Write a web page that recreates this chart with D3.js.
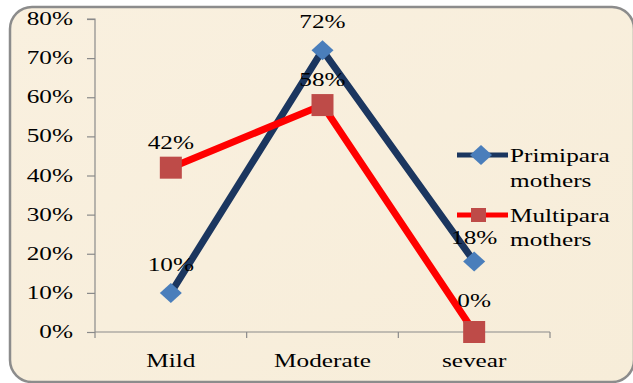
<!DOCTYPE html>
<html><head><meta charset="utf-8">
<script src="https://cdn.jsdelivr.net/npm/d3@7"></script>
<style>body{margin:0;background:#fff;}svg{display:block;}</style>
</head><body>
<svg id="c" width="633" height="383"></svg>
<script>
const categories = ["Mild", "Moderate", "sevear"];
const primipara = [10, 72, 18];
const multipara = [42, 58, 0];
const yTicks = [0, 10, 20, 30, 40, 50, 60, 70, 80];
const seriesNames = [["Primipara", "mothers"], ["Multipara", "mothers"]];

const svg = d3.select("#c");
const SX = 1.33;
const font = "'Liberation Serif','Times New Roman',serif";

// background panel
const defs = svg.append("defs");
const grad = defs.append("linearGradient").attr("id","bg").attr("x1",0).attr("y1",0).attr("x2",1).attr("y2",1);
grad.append("stop").attr("offset","0%").attr("stop-color","#f9f0df");
grad.append("stop").attr("offset","100%").attr("stop-color","#f7edd9");
svg.append("rect").attr("x",10).attr("y",7).attr("width",624).attr("height",375)
  .attr("rx",22).attr("fill","url(#bg)").attr("stroke","#8c8c8c").attr("stroke-width",2.5);

const x0 = 95, x1 = 550, yTop = 19, yBot = 332;
const x = d3.scaleBand().domain(categories).range([x0, x1]);
const y = d3.scaleLinear().domain([0, 80]).range([yBot, yTop]);

function txt(g, s, px, py, anchor, size) {
  return g.append("text").text(s)
    .attr("transform", `translate(${px},${py}) scale(${SX},1)`)
    .attr("text-anchor", anchor).attr("font-family", font)
    .attr("font-size", size || 19).attr("fill", "#000");
}

// Y axis
const yAxis = svg.append("g").attr("transform", `translate(${x0},0)`)
  .call(d3.axisLeft(y).tickValues(yTicks).tickSize(8).tickFormat(""));
yAxis.selectAll("path,line").attr("stroke", "#8a8a8a").attr("stroke-width", 1.2);
yAxis.select(".domain").attr("d", `M-8,${yTop}H0V${yBot}`);
yTicks.forEach(t => txt(svg, t + "%", 73, y(t) + 6, "end"));

// X axis
const xAxis = svg.append("g").attr("transform", `translate(0,${yBot})`)
  .call(d3.axisBottom(x).tickSize(0).tickFormat(""));
xAxis.selectAll("path").attr("stroke", "#8a8a8a").attr("stroke-width", 1.2);
xAxis.select(".domain").attr("d", `M${x0},0H${x1}`);
const bounds = categories.map(c => x(c)).concat([x1]);
bounds.forEach(b => svg.append("line").attr("x1", b).attr("x2", b)
  .attr("y1", yBot).attr("y2", yBot + 6).attr("stroke", "#8a8a8a").attr("stroke-width", 1.2));
categories.forEach(c => txt(svg, c, x(c) + x.bandwidth() / 2, 367, "middle"));

const cx = c => x(c) + x.bandwidth() / 2;
const line = d3.line().x((d, i) => cx(categories[i])).y(d => y(d));

// Primipara
svg.append("path").datum(primipara).attr("d", line).attr("fill", "none")
  .attr("stroke", "#1b365f").attr("stroke-width", 7).attr("stroke-linejoin", "miter");
// Multipara
svg.append("path").datum(multipara).attr("d", line).attr("fill", "none")
  .attr("stroke", "#ff0000").attr("stroke-width", 7).attr("stroke-linejoin", "miter");

const diamond = (g, px, py) => g.append("path")
  .attr("d", `M${px},${py - 10}L${px + 11},${py}L${px},${py + 10}L${px - 11},${py}Z`)
  .attr("fill", "#4a7ebb");
const square = (g, px, py) => g.append("rect")
  .attr("x", px - 11).attr("y", py - 11).attr("width", 22).attr("height", 22)
  .attr("fill", "#be4b48");

primipara.forEach((v, i) => diamond(svg, cx(categories[i]), y(v)));
multipara.forEach((v, i) => square(svg, cx(categories[i]), y(v)));

// legend
const lg = svg.append("g");
lg.append("line").attr("x1", 457).attr("x2", 508).attr("y1", 155).attr("y2", 155)
  .attr("stroke", "#1b365f").attr("stroke-width", 5);
diamond(lg, 481, 155);
txt(lg, seriesNames[0][0], 510, 162, "start");
txt(lg, seriesNames[0][1], 510, 187, "start");
lg.append("line").attr("x1", 457).attr("x2", 508).attr("y1", 215).attr("y2", 215)
  .attr("stroke", "#ff0000").attr("stroke-width", 5);
lg.append("rect").attr("x", 471).attr("y", 208).attr("width", 15).attr("height", 14).attr("fill", "#be4b48");
txt(lg, seriesNames[1][0], 510, 222, "start");
txt(lg, seriesNames[1][1], 510, 246, "start");

// data labels
const pOff = [-22, -22, -18];
const mOff = [-19, -19, -25];
primipara.forEach((v, i) => txt(svg, v + "%", cx(categories[i]), y(v) + pOff[i], "middle"));
multipara.forEach((v, i) => txt(svg, v + "%", cx(categories[i]), y(v) + mOff[i], "middle"));
</script>
</body></html>
